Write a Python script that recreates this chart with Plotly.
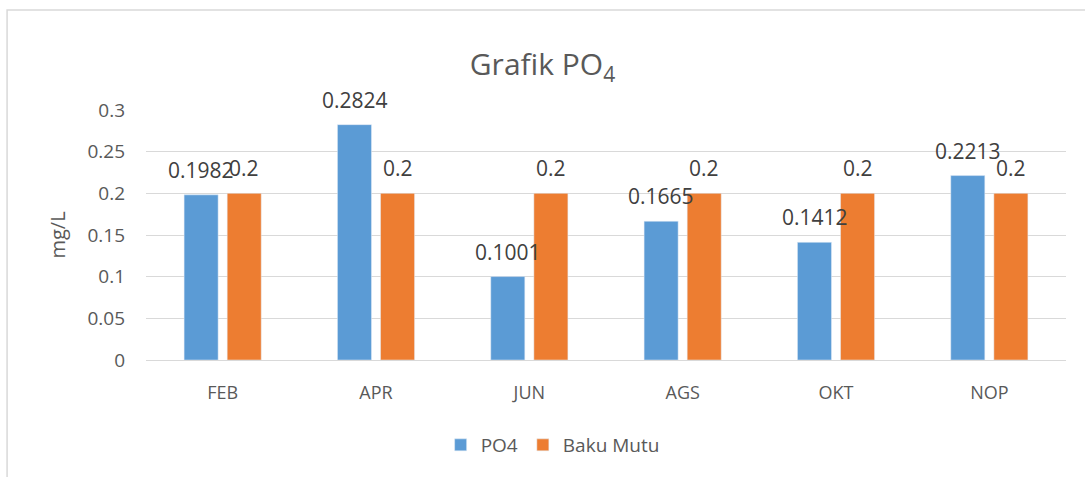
import plotly.graph_objects as go

categories = ["FEB", "APR", "JUN", "AGS", "OKT", "NOP"]
po4 = [0.1982, 0.2824, 0.1001, 0.1665, 0.1412, 0.2213]
baku_mutu = [0.2, 0.2, 0.2, 0.2, 0.2, 0.2]
po4_labels = ["0.1982", "0.2824", "0.1001", "0.1665", "0.1412", "0.2213"]
bm_labels = ["0.2"] * 6

FONT = "Open Sans"
BLUE = "#5B9BD5"
ORANGE = "#ED7D31"

fig = go.Figure()
fig.add_trace(go.Bar(x=categories, y=po4, name="PO4", marker_color=BLUE))
fig.add_trace(go.Bar(x=categories, y=baku_mutu, name="Baku Mutu", marker_color=ORANGE))

annotations = []
for cat, v, t in zip(categories, po4, po4_labels):
    annotations.append(dict(x=cat, y=v, text=t, xshift=-21.5, yshift=9, showarrow=False,
                            xanchor="center", yanchor="bottom",
                            font=dict(size=21, color="#404040", family=FONT)))
for cat, v, t in zip(categories, baku_mutu, bm_labels):
    annotations.append(dict(x=cat, y=v, text=t, xshift=21.5, yshift=9, showarrow=False,
                            xanchor="center", yanchor="bottom",
                            font=dict(size=21, color="#404040", family=FONT)))

fig.update_layout(
    width=1085, height=477,
    margin=dict(l=146, r=19, t=110, b=117),
    paper_bgcolor="white", plot_bgcolor="white",
    font=dict(family=FONT, color="#595959", size=18),
    barmode="group", bargap=0.438, bargroupgap=0.21,
    title=dict(text="Grafik PO<sub>4</sub>", x=0.5, xanchor="center", y=0.864, yanchor="middle",
               font=dict(size=30, color="#595959", family=FONT)),
    legend=dict(orientation="h", x=0.442, xanchor="center", y=-0.34, yanchor="middle",
                font=dict(size=19, color="#595959"), itemwidth=30),
    annotations=annotations,
    yaxis=dict(range=[0, 0.3], dtick=0.05, tickformat="~g", gridcolor="#D9D9D9",
               zeroline=False, showline=False, ticks="", ticklabelstandoff=20,
               tickfont=dict(size=19),
               title=dict(text="mg/L", font=dict(size=20), standoff=16)),
    xaxis=dict(showline=True, linecolor="#D9D9D9", ticks="", ticklabelstandoff=16,
               tickfont=dict(size=18)),
    shapes=[dict(type="rect", xref="paper", yref="paper", x0=-0.151, x1=1.1, y0=-0.6, y1=1.4,
                 line=dict(color="#D9D9D9", width=1.5), fillcolor="rgba(0,0,0,0)", layer="below")],
)
fig.write_html("out.html", config={"displayModeBar": False},
               post_script="document.body.style.margin='0';document.body.style.padding='0';")
